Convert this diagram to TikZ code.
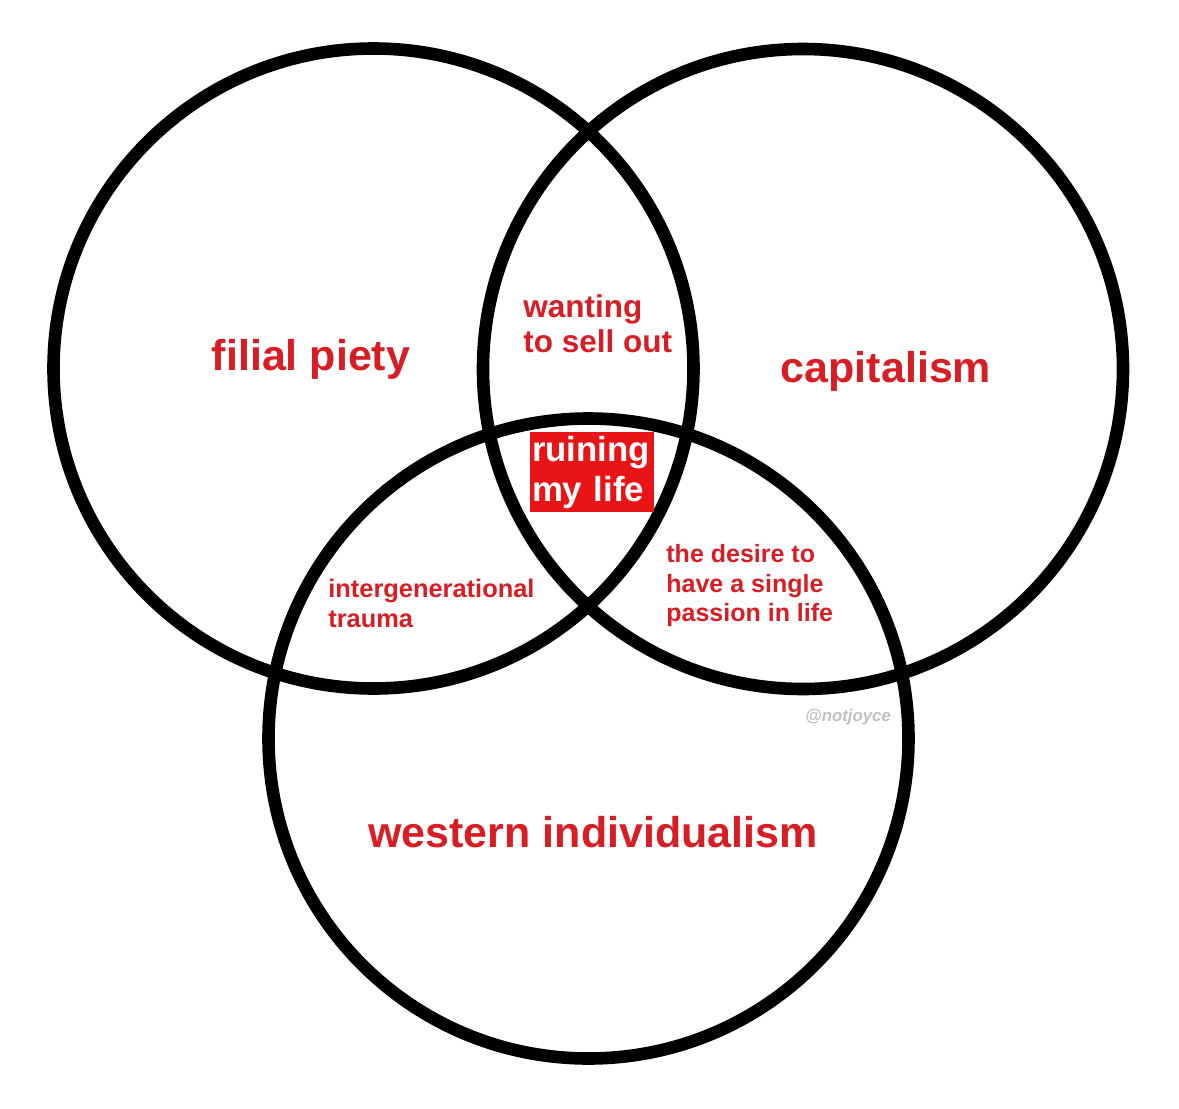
\documentclass[tikz,border=0pt]{standalone}
\usepackage{fontspec}
\setmainfont{Liberation Sans}
\definecolor{vred}{RGB}{216,30,36}
\definecolor{boxred}{RGB}{232,20,22}
\definecolor{markgray}{RGB}{192,192,192}
\begin{document}
\begin{tikzpicture}[x=0.5pt,y=-0.5pt,
  ring/.style={line width=6.3pt,draw=black},
  bigtxt/.style={text=vred,font=\bfseries\fontsize{21.5}{25}\selectfont,inner sep=0pt},
  midtxt/.style={text=vred,font=\bfseries\fontsize{15.75}{17.5}\selectfont,inner sep=0pt,align=left,anchor=north west},
  smalltxt/.style={text=vred,font=\bfseries\fontsize{12.7}{15}\selectfont,inner sep=0pt,align=left,anchor=north west}]
\useasboundingbox[fill=white] (0,0) rectangle (1179,1109);
% circles
\draw[ring] (373.5,368.5) circle[radius=320];
\draw[ring] (803,369) circle[radius=320];
\draw[ring] (588.5,738.5) circle[radius=320];
% main labels
\node[bigtxt,anchor=base] (filial) at (311,370) {filial piety};
\node[bigtxt,anchor=base] (capital) at (886,382) {capitalism};
\node[bigtxt,anchor=base] (western) at (593,847) {western individualism};
% pairwise labels
\node[midtxt] (sell) at (523,294) {wanting\\to sell out};
\node[smalltxt] (trauma) at (328,579) {intergenerational\\trauma};
\node[smalltxt,font=\bfseries\fontsize{12.5}{14.75}\selectfont] (desire) at (666,544) {the desire to\\have a single\\passion in life};
% centre
\node[fill=boxred,text=white,font=\bfseries\fontsize{17.4}{20}\selectfont,
  text width=60pt,align=left,inner xsep=1pt,inner ysep=0pt,minimum height=40pt] (ruin) at (592,472) {ruining\\my life};
% watermark
\node[text=markgray,font=\bfseries\itshape\fontsize{8.4}{10}\selectfont,inner sep=0pt,anchor=base west] (mark) at (805,721) {@notjoyce};
\end{tikzpicture}
\end{document}
